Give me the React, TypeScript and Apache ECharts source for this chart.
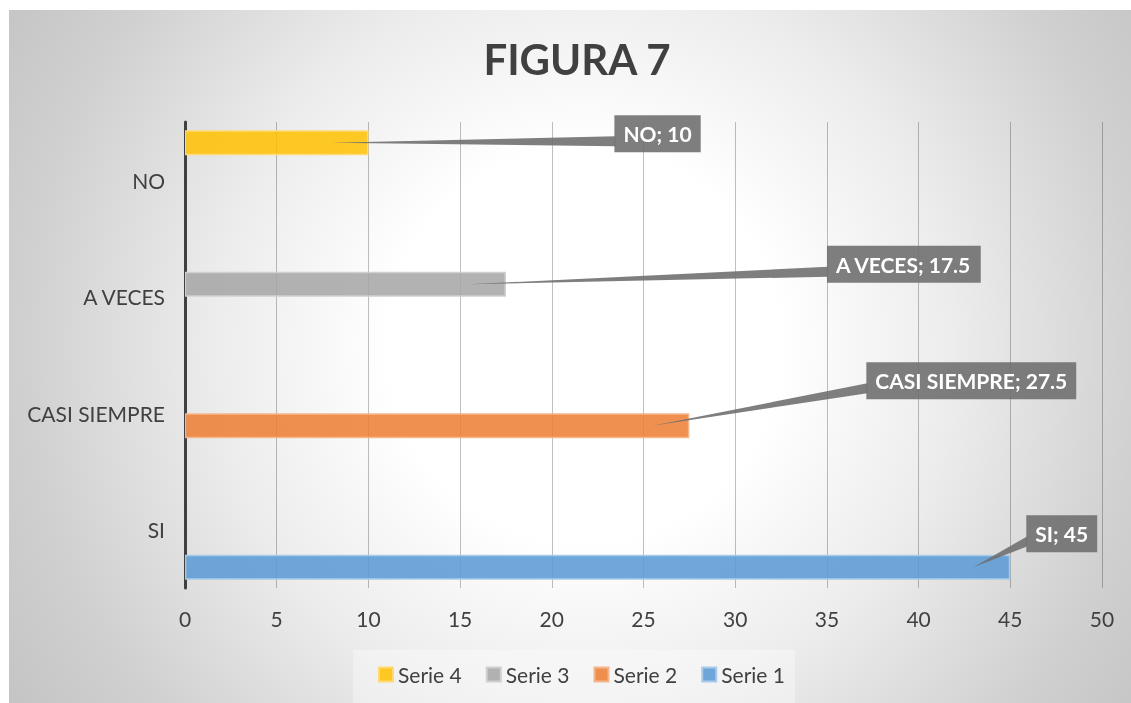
import React, { useEffect, useRef } from "react";
import * as echarts from "echarts";

// ---- data ----
const categories = ["SI", "CASI SIEMPRE", "A VECES", "NO"];
const seriesNames = ["Serie 1", "Serie 2", "Serie 3", "Serie 4"];
const serie1 = [45, null, null, null];
const serie2 = [null, 27.5, null, null];
const serie3 = [null, null, 17.5, null];
const serie4 = [null, null, null, 10];
const seriesValues = [serie1, serie2, serie3, serie4];
const legendOrder = ["Serie 4", "Serie 3", "Serie 2", "Serie 1"];
const xMin = 0;
const xMax = 50;
const xInterval = 5;
const titleText = "FIGURA 7";

// ---- styles ----
const fills = [
  "rgba(91,155,213,0.88)",
  "rgba(237,125,49,0.85)",
  "rgba(165,165,165,0.85)",
  "rgba(255,192,0,0.85)",
];
const borders = ["#a9cbe9", "#f5b68c", "#cfcfcf", "#ffda73"];
// callout box offsets (px) relative to bar end / bar centre
const calloutOffsets = [
  [16, -52],
  [177, -63.5],
  [321, -38.5],
  [246, -27.5],
];
const BAR_CATEGORY_GAP = 0.14;
const TIP_BACK = 37;
const BOX_COLOR = "rgba(112,112,112,0.9)";
const FONT = "Lato, 'Open Sans', sans-serif";

export default function App() {
  const ref = useRef<HTMLDivElement>(null);

  useEffect(() => {
    if (!ref.current) return;
    const chart = echarts.init(ref.current, undefined, { renderer: "svg" });
    const W = 1122;
    const H = 693;

    const calloutData: any[] = [];
    seriesValues.forEach((vals, s) => {
      vals.forEach((v, c) => {
        if (v != null) calloutData.push([v, c, s]);
      });
    });

    // ECharts stacks horizontal bar slots top-down, so add the series in reverse
    const barSeries = seriesValues
      .map((vals, i) => ({
        type: "bar",
        name: seriesNames[i],
        data: vals.map((v) => (v == null ? "-" : v)),
        barGap: "0%",
        barCategoryGap: BAR_CATEGORY_GAP * 100 + "%",
        itemStyle: { color: fills[i], borderColor: borders[i], borderWidth: 1.5 },
        z: 3,
      }))
      .reverse();

    const option: any = {
      animation: false,
      title: {
        text: titleText,
        left: 568,
        top: 28,
        textAlign: "center",
        padding: 0,
        textStyle: { fontFamily: FONT, fontWeight: "bold", fontSize: 42, color: "#404040" },
      },
      graphic: [
        {
          type: "rect",
          z: -10,
          silent: true,
          shape: { x: 0, y: 0, width: W, height: H },
          style: {
            fill: {
              type: "radial",
              x: 575,
              y: 335,
              r: 700,
              global: true,
              colorStops: [
                { offset: 0, color: "#ffffff" },
                { offset: 0.28, color: "#ffffff" },
                { offset: 0.53, color: "#ececec" },
                { offset: 0.8, color: "#d0d0d0" },
                { offset: 1, color: "#c2c2c2" },
              ],
            },
          },
        },
        {
          type: "rect",
          z: -9,
          silent: true,
          shape: { x: 344, y: 640, width: 442, height: 60 },
          style: { fill: "rgba(255,255,255,0.35)" },
        },
      ],
      legend: {
        data: legendOrder,
        left: 369,
        top: 654,
        padding: 0,
        itemWidth: 14,
        itemHeight: 14,
        itemGap: 24,
        icon: "rect",
        textStyle: { fontFamily: FONT, fontSize: 21, color: "#404040" },
      },
      grid: { left: 176, right: 29, top: 112, bottom: 115 },
      xAxis: {
        type: "value",
        min: xMin,
        max: xMax,
        interval: xInterval,
        axisLine: { show: false },
        axisTick: { show: false },
        splitLine: { show: true, lineStyle: { color: "rgba(0,0,0,0.25)", width: 1 } },
        axisLabel: { fontFamily: FONT, fontSize: 21, color: "#404040", margin: 20 },
      },
      yAxis: {
        type: "category",
        data: categories,
        axisLine: { show: true, lineStyle: { color: "#404040", width: 3 } },
        axisTick: { show: false },
        splitLine: { show: false },
        axisLabel: { fontFamily: FONT, fontSize: 21, color: "#404040", margin: 20 },
      },
      series: [
        ...barSeries,
        {
          type: "custom",
          name: "callouts",
          coordinateSystem: "cartesian2d",
          encode: { x: 0, y: 1 },
          data: calloutData,
          z: 10,
          silent: true,
          renderItem: (params: any, api: any) => {
            const value = api.value(0) as number;
            const cat = api.value(1) as number;
            const slot = api.value(2) as number;
            const end = api.coord([value, cat]);
            const band = api.size([0, 1])[1];
            const barFrac = (1 - BAR_CATEGORY_GAP) / seriesValues.length;
            const cy = end[1] + band * ((1 - BAR_CATEGORY_GAP) / 2 - (slot + 0.5) * barFrac);
            const tipX = end[0] - TIP_BACK;
            const [dx, dy] = calloutOffsets[slot];
            const bx = end[0] + dx;
            const by = cy + dy;
            return {
              type: "group",
              children: [
                {
                  type: "polygon",
                  shape: { points: [[tipX, cy], [bx + 1, by + 21], [bx + 1, by + 31]] },
                  style: { fill: BOX_COLOR },
                },
                {
                  type: "text",
                  x: bx,
                  y: by,
                  style: {
                    text: categories[cat] + "; " + value,
                    fill: "#ffffff",
                    fontFamily: FONT,
                    fontWeight: "bold",
                    fontSize: 21,
                    lineHeight: 21,
                    backgroundColor: BOX_COLOR,
                    padding: [8, 9, 8, 9],
                    align: "left",
                    verticalAlign: "top",
                    textAlign: "left",
                    textVerticalAlign: "top",
                  },
                },
              ],
            };
          },
        },
      ],
    };

    chart.setOption(option);
    return () => chart.dispose();
  }, []);

  return (
    <div
      ref={ref}
      style={{ position: "fixed", left: 9, top: 10, width: 1122, height: 693 }}
    />
  );
}
